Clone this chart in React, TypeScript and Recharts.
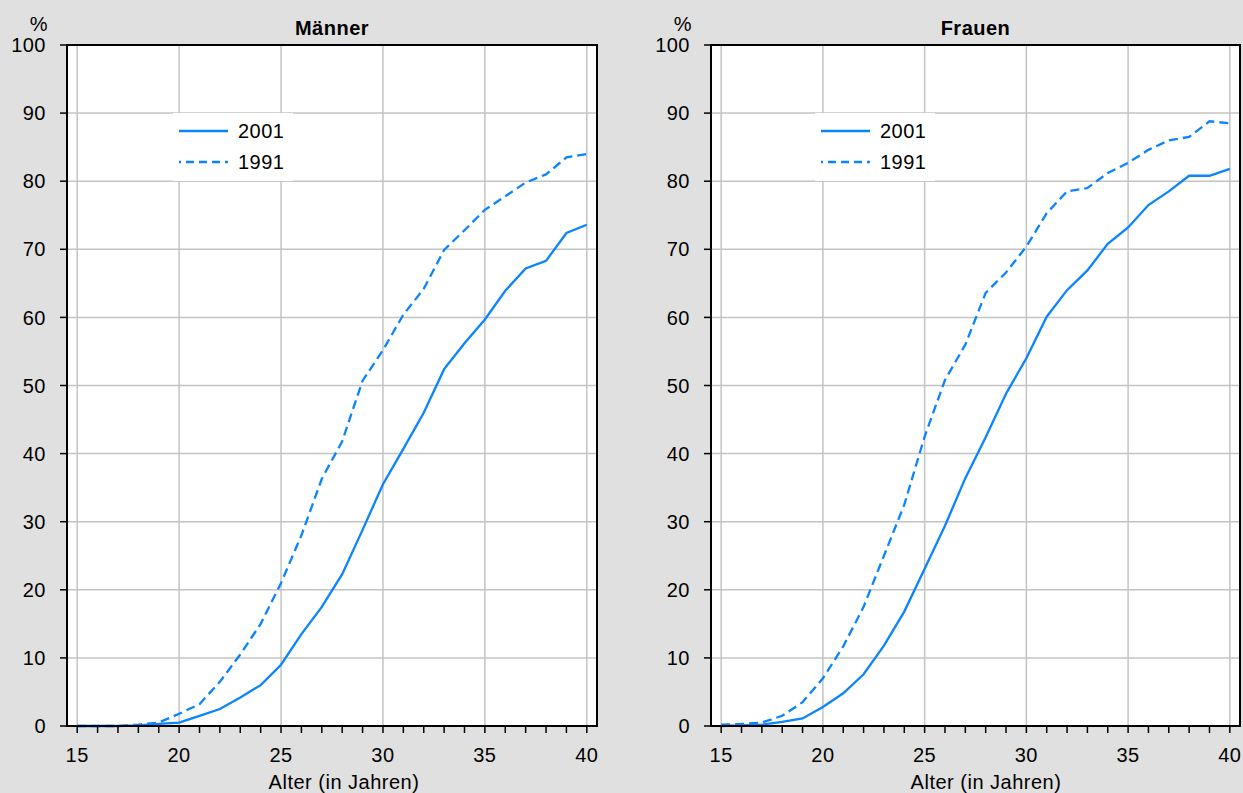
import { CartesianGrid, Legend, Line, LineChart, ReferenceArea, XAxis, YAxis } from 'recharts'

const ages = [15, 16, 17, 18, 19, 20, 21, 22, 23, 24, 25, 26, 27, 28, 29, 30, 31, 32, 33, 34, 35, 36, 37, 38, 39, 40]

const maenner2001 = [0, 0, 0, 0.1, 0.3, 0.5, 1.5, 2.5, 4.2, 6, 9, 13.5, 17.5, 22.3, 28.8, 35.5, 40.7, 46, 52.4, 56.2, 59.7, 63.9, 67.2, 68.3, 72.4, 73.6]
const maenner1991 = [0, 0, 0, 0.2, 0.5, 1.8, 3.2, 6.5, 10.5, 15, 21, 28, 36.3, 41.8, 50.7, 55.2, 60.4, 64.2, 69.9, 72.8, 75.8, 77.8, 79.8, 81, 83.5, 84]

const frauen2001 = [0, 0.1, 0.2, 0.6, 1.1, 2.8, 4.8, 7.6, 11.8, 16.8, 23.1, 29.4, 36.4, 42.4, 48.8, 54, 60.1, 64, 66.9, 70.8, 73.2, 76.5, 78.5, 80.8, 80.8, 81.8]
const frauen1991 = [0.2, 0.3, 0.5, 1.5, 3.5, 7, 11.7, 17.5, 25, 32.5, 42.5, 50.8, 56, 63.6, 66.6, 70.4, 75.3, 78.5, 79, 81.2, 82.7, 84.6, 86, 86.5, 88.8, 88.5]

const majorTicks = [15, 20, 25, 30, 35, 40]
const yTicks = [0, 10, 20, 30, 40, 50, 60, 70, 80, 90, 100]

const BLUE = '#0a84ff'
const FONT = '"Liberation Sans", Arial, Helvetica, sans-serif'
const FS = 20
const LS = 0.5
const DASH = '9 5'

interface PanelProps {
  title: string
  s2001: number[]
  s1991: number[]
  left: number
  width: number
  marginLeft: number
  marginRight: number
  legendLeft: number
  labelCenter: number
}

function LegendBox() {
  return (
    <svg width={120} height={68} style={{ display: 'block' }}>
      <rect x={0} y={0} width={120} height={68} fill="#fff" />
      <line x1={6} x2={55} y1={18} y2={18} stroke={BLUE} strokeWidth={2.3} />
      <text x={65} y={25} fontSize={FS} letterSpacing={LS} fontFamily={FONT} fill="#000">2001</text>
      <line x1={6} x2={55} y1={49} y2={49} stroke={BLUE} strokeWidth={2.3} strokeDasharray="8 5" strokeDashoffset={6} />
      <text x={65} y={56} fontSize={FS} letterSpacing={LS} fontFamily={FONT} fill="#000">1991</text>
    </svg>
  )
}

// labels only on the 5-year ticks, tick marks on every year
function AgeTick(props: any) {
  const { x, y, payload } = props
  if (payload.value % 5 !== 0) return <g />
  return (
    <text x={x} y={y} dy="0.71em" textAnchor="middle" fontSize={FS} letterSpacing={LS} fontFamily={FONT} fill="#000">
      {payload.value}
    </text>
  )
}

function Panel({ title, s2001, s1991, left, width, marginLeft, marginRight, legendLeft, labelCenter }: PanelProps) {
  const data = ages.map((age, i) => ({ age, y2001: s2001[i], y1991: s1991[i] }))
  const plotCenter = marginLeft + (width - marginLeft - marginRight) / 2
  const tickStyle = { fill: '#000', fontSize: FS, fontFamily: FONT, letterSpacing: LS }
  const yAxisWidth = 60
  const textStyle = { position: 'absolute' as const, textAlign: 'center' as const, fontSize: FS, letterSpacing: LS, lineHeight: '24px' }
  return (
    <div style={{ position: 'absolute', left, top: 0, width, height: 793 }}>
      <div style={{ ...textStyle, left: marginLeft - 38, top: 12, width: 20 }}>%</div>
      <div style={{ ...textStyle, left: plotCenter - 100, top: 16, width: 200, fontWeight: 'bold' }}>{title}</div>
      <LineChart width={width} height={793} data={data} margin={{ top: 45, right: marginRight, bottom: 17, left: marginLeft - yAxisWidth }}>
        <XAxis xAxisId="grid" dataKey="age" type="number" domain={[14.5, 40.5]} ticks={majorTicks} hide />
        <CartesianGrid xAxisId="grid" stroke="#c4c4c4" strokeWidth={1.5} fill="#fff" />
        <XAxis
          xAxisId="age"
          dataKey="age"
          type="number"
          domain={[14.5, 40.5]}
          ticks={ages}
          height={50}
          interval={0}
          tick={<AgeTick />}
          axisLine={{ stroke: '#000', strokeWidth: 2 }}
          tickLine={{ stroke: '#000', strokeWidth: 1.5 }}
          tickSize={7}
          tickMargin={15}
        />
        <YAxis
          type="number"
          domain={[0, 100]}
          ticks={yTicks}
          width={yAxisWidth}
          interval={0}
          tick={tickStyle}
          axisLine={{ stroke: '#000', strokeWidth: 2 }}
          tickLine={{ stroke: '#000', strokeWidth: 1.5 }}
          tickSize={7}
          tickMargin={14}
        />
        <Line xAxisId="age" type="linear" dataKey="y2001" name="2001" stroke={BLUE} strokeWidth={2.3} dot={false} isAnimationActive={false} />
        <Line xAxisId="age" type="linear" dataKey="y1991" name="1991" stroke={BLUE} strokeWidth={2.3} strokeDasharray={DASH} dot={false} isAnimationActive={false} />
        <ReferenceArea xAxisId="age" x1={14.5} x2={40.5} y1={0} y2={100} fill="none" fillOpacity={0} stroke="#000" strokeWidth={2} ifOverflow="visible" />
        <Legend
          layout="horizontal"
          verticalAlign="middle"
          align="center"
          content={() => <LegendBox />}
          wrapperStyle={{ position: 'absolute', left: legendLeft, top: 113, width: 120, height: 68 }}
        />
      </LineChart>
      <div style={{ ...textStyle, left: labelCenter - 150, top: 770, width: 300 }}>Alter (in Jahren)</div>
    </div>
  )
}

export default function App() {
  return (
    <div style={{ position: 'relative', width: 1243, height: 793, background: '#e0e0e0', overflow: 'hidden', fontFamily: FONT, color: '#000' }}>
      <style>{'body{margin:0}'}</style>
      <Panel title="Männer" s2001={maenner2001} s1991={maenner1991} left={0} width={620} marginLeft={67} marginRight={23} legendLeft={173} labelCenter={344} />
      <Panel title="Frauen" s2001={frauen2001} s1991={frauen1991} left={620} width={623} marginLeft={91} marginRight={3} legendLeft={195} labelCenter={366} />
    </div>
  )
}
